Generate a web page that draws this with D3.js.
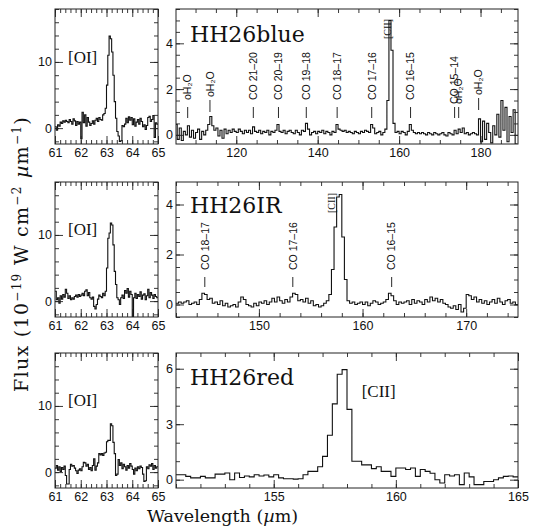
<!DOCTYPE html>
<html><head><meta charset="utf-8">
<script src="https://cdn.jsdelivr.net/npm/d3@7"></script>
<style>body{margin:0;background:#fff}</style>
</head><body>
<svg id="c" width="533" height="527"></svg>
<script>
// ---------------- DATA ----------------
// [OI] 63 micron panels (bins of 0.05 micron starting at 61.00)
const oiStart = 61.0, oiStep = 0.05;
const oiBlue = [
 0.2,-0.3,0.5,0.3,0.9,0.7,1.1,0.9,1.2,1.0,
 0.8,1.3,1.0,0.6,1.4,1.1,0.4,1.0,0.6,0.9,
 -1.6,2.4,0.8,2.0,0.3,1.6,0.9,0.4,0.7,1.1,
 0.6,1.2,1.5,1.0,1.6,1.3,1.2,2.0,2.2,3.0,
 6.5,11.0,13.9,13.5,11.5,8.0,4.0,1.5,-0.5,-1.2,
 -2.0,-1.9,0.4,0.2,0.6,1.5,0.8,1.7,1.2,1.6,
 0.5,1.4,0.3,0.9,1.3,0.6,1.5,1.0,0.2,0.5,
 -0.2,0.4,1.6,1.8,1.0,1.3,1.9,-1.4,0.8,0.6];
const oiIR = [
 1.5,0.2,0.5,-0.3,0.8,0.3,1.0,0.6,1.8,1.2,
 0.4,0.8,0.2,0.5,0.3,0.7,0.9,0.6,1.0,0.7,
 0.9,1.2,0.8,1.5,1.7,0.8,1.3,0.5,0.3,0.6,
 -0.8,-1.2,-0.5,0.3,0.9,0.7,0.5,1.2,0.8,1.5,
 5.0,9.5,10.3,11.8,11.5,8.5,4.5,2.5,0.5,0.2,
 -0.5,0.5,0.9,0.4,1.6,1.2,1.9,0.6,1.5,1.0,
 -2.3,0.5,1.2,0.4,1.0,0.7,1.4,0.3,0.9,1.1,
 0.2,0.8,1.8,0.5,1.3,0.9,0.4,1.0,0.7,0.5];
const oiRed = [
 0.6,1.0,0.3,0.8,0.1,0.7,0.4,0.9,-0.5,-1.8,
 -1.8,0.4,1.2,0.9,1.0,0.6,0.2,-0.2,0.3,0.5,
 0.2,0.8,1.5,1.4,0.9,1.2,0.4,0.7,0.2,1.0,
 2.0,0.3,0.9,1.4,2.8,2.6,2.8,2.5,2.9,3.0,
 4.6,4.8,4.8,7.3,7.0,4.5,2.8,-0.5,-0.3,1.9,
 1.0,1.4,0.5,1.2,0.8,0.3,1.0,0.6,1.3,0.9,
 0.4,-0.3,0.6,0.2,0.8,0.5,0.9,0.7,-0.3,-1.4,
 -1.3,0.8,0.5,1.1,0.9,1.3,0.4,1.0,0.6,0.8];

// HH26blue long-wavelength spectrum (bins of 0.5 micron from 105.0)
const blueStart = 105.0, blueStep = 0.5;
const blueFlux = [
 0.45,-0.2,0.3,-0.25,0.15,0.0,0.4,-0.1,0.2,-0.15,
 0.1,0.25,-0.2,0.15,0.0,0.2,0.45,0.8,0.4,0.2,
 0.3,-0.05,0.2,-0.15,0.25,0.05,0.2,0.1,0.25,0.15,
 0.1,0.25,0.15,0.05,0.2,0.1,0.2,0.05,0.35,0.15,
 0.1,0.2,0.05,0.15,0.1,0.2,0.0,0.15,0.1,0.2,
 0.45,0.15,0.1,0.2,0.05,0.15,0.2,0.1,0.05,0.2,
 0.1,0.0,0.2,0.15,0.5,0.25,0.0,0.1,0.15,0.05,
 0.15,0.1,0.2,0.05,0.15,0.1,0.0,0.15,0.1,0.45,
 0.25,0.2,0.15,0.2,0.1,0.15,0.1,0.05,0.15,0.1,
 0.05,0.15,0.1,0.2,0.15,0.1,0.45,0.3,0.05,0.1,
 0.15,0.0,0.1,0.25,1.5,5.0,3.7,0.5,0.1,0.15,
 0.05,0.15,0.1,0.0,0.15,0.45,0.2,0.1,0.05,0.1,
 0.05,0.1,0.05,0.0,0.1,0.05,0.0,0.1,0.05,0.0,
 0.05,0.1,0.0,-0.05,0.1,0.05,0.0,0.2,0.05,0.25,
 0.1,0.3,0.05,0.1,0.0,0.05,0.1,0.05,0.0,0.7,
 -0.3,0.6,-0.2,0.5,0.1,-0.35,0.4,0.0,0.9,-0.1,
 1.5,0.2,1.2,-0.3,0.8,0.1,1.1,-0.4];

// HH26IR spectrum (bins of 0.25 micron from 142.0)
const irStart = 142.0, irStep = 0.25;
const irFlux = [
 0.05,0.1,0.05,0.1, 0.15,0.0,0.05,0.1, 0.0,0.2,0.45,0.4, 0.2,0.25,0.05,0.1,
 0.0,0.15,-0.05,0.05, -0.1,-0.05,0.0,-0.1, 0.1,0.3,0.2,0.0, -0.05,-0.1,0.05,-0.05,
 0.1,0.05,0.15,0.0, 0.1,0.25,0.1,0.3, 0.15,0.05,0.2,0.1, 0.3,0.45,0.4,0.15,
 0.2,0.1,0.25,0.05, 0.15,-0.05,0.0,-0.1, -0.05,0.05,0.15,0.4, 1.4,3.1,4.3,4.4,
 2.7,1.0,0.15,0.05, 0.1,0.0,0.05,0.1, 0.0,0.1,-0.05,0.05, 0.15,0.1,0.0,0.05,
 0.1,0.2,0.45,0.35, 0.15,0.0,0.1,0.05, 0.1,0.15,0.0,0.2, 0.05,0.15,0.1,0.0,
 0.2,0.1,0.3,0.15, 0.25,0.1,0.2,0.05, 0.0,-0.1,-0.15,-0.05, -0.2,0.0,-0.3,-0.15,
 0.4,0.35,0.2,0.3, 0.1,0.2,0.05,0.15, 0.0,0.1,0.2,0.05, 0.25,0.1,0.0,0.15,
 0.2,0.05,0.1,0.0];

// HH26red spectrum (bins of 0.2 micron from 151.0)
const redStart = 151.0, redStep = 0.2;
const redFlux = [
 0.27,0.27,0.18,0.1,0.1,0.18,0.1,0.1,0.3,0.3,
 0.36,0.0,0.36,0.12,0.2,0.15,0.27,0.2,0.25,0.15,
 0.27,0.1,0.05,0.05,0.03,0.05,0.27,0.45,0.45,0.7,
 1.26,2.4,4.1,5.7,5.95,3.8,1.0,1.0,0.8,0.8,
 0.6,0.7,0.45,0.45,0.18,0.63,0.63,0.55,0.63,0.18,
 0.55,0.45,0.35,0.0,-0.18,0.27,0.2,0.27,-0.27,0.36,
 0.15,-0.27,-0.27,-0.1,-0.1,0.0,0.1,0.18,0.2,0.15];

// line identifications
const blueLineLam = [108.07,113.54,124.19,130.37,137.20,144.78,153.27,162.81,173.63,174.63,179.53];
const blueLineLab = ["oH₂O","oH₂O","CO 21–20","CO 20–19","CO 19–18","CO 18–17","CO 17–16","CO 16–15","CO 15–14","oH₂O","oH₂O"];
const irLineLam = [144.78,153.27,162.81];
const irLineLab = ["CO 18–17","CO 17–16","CO 16–15"];
const ciiLam = 157.74;

// axes
const oiXTicks = [61,62,63,64,65], oiYTicks = [0,10];
const blueXTicks = [120,140,160,180], blueYTicks = [0,2,4];
const irXTicks = [150,160,170], irYTicks = [0,2,4];
const redXTicks = [155,160,165], redYTicks = [0,3,6];
const titles = ["HH26blue","HH26IR","HH26red"];

// ---------------- DRAWING ----------------
const svg = d3.select("#c");
svg.append("rect").attr("width",533).attr("height",527).attr("fill","#fff");

const LX = 55, LW = 103, RX = 176, RW = 342, PH = 135;
const rowTop = [9, 182, 353];
const SANS = "'Liberation Sans', Arial, Helvetica, sans-serif";
const SERIF = "'DejaVu Serif', serif";
const TSERIF = "'Liberation Serif', 'Times New Roman', serif";

function stepVals(d, step) {
  const a = [];
  const s = Math.ceil(d[0]/step - 1e-9), e = Math.floor(d[1]/step + 1e-9);
  for (let k = s; k <= e; k++) a.push(+(k*step).toFixed(6));
  return a;
}
let clipId = 0;
function panel(px, py, pw, xd, yd, xMajor, xStep, yMajor, yStep, start, step, flux) {
  const g = svg.append("g").attr("transform", `translate(${px},${py})`);
  const x = d3.scaleLinear().domain(xd).range([0, pw]);
  const y = d3.scaleLinear().domain(yd).range([PH, 0]);
  const id = "clip" + (clipId++);
  g.append("clipPath").attr("id", id).append("rect").attr("width", pw).attr("height", PH);

  const pts = flux.map((v, i) => [start + i*step, v]);
  pts.push([start + flux.length*step, flux[flux.length-1]]);
  const line = d3.line().x(d => x(d[0])).y(d => y(d[1])).curve(d3.curveStepAfter);
  g.append("path").attr("clip-path", `url(#${id})`).attr("d", line(pts))
    .attr("fill","none").attr("stroke","#111").attr("stroke-width",1.1);

  const xMin = stepVals(xd, xStep), yMin = stepVals(yd, yStep);
  const clean = s => s.call(a => a.select(".domain").remove())
     .selectAll("line").attr("stroke","#222").attr("stroke-width",0.9);
  const ax = (axis, tr) => g.append("g").attr("transform", tr || null).call(axis);
  // minor ticks on all four sides
  clean(ax(d3.axisBottom(x).tickValues(xMin).tickSize(-4).tickFormat(""), `translate(0,${PH})`));
  clean(ax(d3.axisTop(x).tickValues(xMin).tickSize(-4).tickFormat("")));
  clean(ax(d3.axisLeft(y).tickValues(yMin).tickSize(-4).tickFormat("")));
  clean(ax(d3.axisRight(y).tickValues(yMin).tickSize(-4).tickFormat(""), `translate(${pw},0)`));
  // major ticks
  const b = ax(d3.axisBottom(x).tickValues(xMajor).tickSizeInner(-8).tickSizeOuter(0).tickPadding(4).tickFormat(d3.format("d")), `translate(0,${PH})`);
  clean(b);
  clean(ax(d3.axisTop(x).tickValues(xMajor).tickSizeInner(-8).tickSizeOuter(0).tickFormat("")));
  const l = ax(d3.axisLeft(y).tickValues(yMajor).tickSizeInner(-8).tickSizeOuter(0).tickPadding(3).tickFormat(d3.format("d")));
  clean(l);
  clean(ax(d3.axisRight(y).tickValues(yMajor).tickSizeInner(-8).tickSizeOuter(0).tickFormat(""), `translate(${pw},0)`));
  [b, l].forEach(a => a.attr("font-family", SANS).attr("font-size", 12.5)
     .selectAll("text").attr("fill","#111"));
  g.append("rect").attr("width", pw).attr("height", PH).attr("fill","none")
    .attr("stroke","#222").attr("stroke-width",1);
  return {g, x, y};
}

const oiSets = [oiBlue, oiIR, oiRed];
const oiLabelY = [54, 53, 53];
rowTop.forEach((t, r) => {
  const p = panel(LX, t, LW, [61,65], [-2.4,18], oiXTicks, 0.2, oiYTicks, 2, oiStart, oiStep, oiSets[r]);
  p.g.append("text").attr("x", 13).attr("y", oiLabelY[r]).text("[OI]")
    .attr("font-family", TSERIF).attr("font-size", 17).attr("fill","#111");
});

const pB = panel(RX, rowTop[0], RW, [105.2,189.2], [-0.4,5.5], blueXTicks, 5, blueYTicks, 0.5, blueStart, blueStep, blueFlux);
const pI = panel(RX, rowTop[1], RW, [142,175], [-0.5,4.9], irXTicks, 2, irYTicks, 0.5, irStart, irStep, irFlux);
const pR = panel(RX, rowTop[2], RW, [151,165], [-0.45,6.85], redXTicks, 1, redYTicks, 1, redStart, redStep, redFlux);

[pB, pI, pR].forEach((p, r) => {
  p.g.append("text").attr("x", 14).attr("y", [33, 31, 32][r]).text(titles[r])
    .attr("font-family", SERIF).attr("font-size", 22).attr("fill","#111");
});

// line identification labels
function idLabels(p, lams, labs, style) {
  lams.forEach((lam, i) => {
    const s = style(i);
    const xx = p.x(lam);
    p.g.append("line").attr("x1", xx).attr("x2", xx).attr("y1", s.l1).attr("y2", s.l2)
      .attr("stroke","#111").attr("stroke-width",0.9);
    p.g.append("text").attr("transform", `translate(${xx+3.8},${s.tb}) rotate(-90)`)
      .text(labs[i]).attr("font-family", SANS).attr("font-size", 10.5).attr("fill","#111");
  });
}
idLabels(pB, blueLineLam, blueLineLab, i => {
  if (i === 1) return {tb: 88, l1: 91, l2: 103};
  if (i === 10) return {tb: 86, l1: 89, l2: 101};
  if (i === 8 || i === 9) return {tb: 95, l1: 98, l2: 109};
  return {tb: 91, l1: 98, l2: 109};
});
idLabels(pI, irLineLam, irLineLab, () => ({tb: 88, l1: 95, l2: 105}));

function boxedCII(p, dx, yb) {
  const xx = p.x(ciiLam) + dx;
  p.g.append("text").attr("transform", `translate(${xx},${yb}) rotate(-90)`)
    .text("[CII]").attr("font-family", TSERIF).attr("font-size", 10).attr("fill","#111");
}
boxedCII(pB, 1.5, 30);
boxedCII(pI, -4.5, 31);

pR.g.append("text").attr("x", pR.x(158.6)).attr("y", 44).text("[CII]")
  .attr("font-family", TSERIF).attr("font-size", 17).attr("fill","#111");

// axis titles
const yl = svg.append("text").attr("transform", "translate(28,254) rotate(-90)")
  .attr("text-anchor","middle").attr("font-family", SERIF).attr("font-size", 19)
  .attr("letter-spacing", 1.3).attr("fill","#111");
yl.append("tspan").text("Flux (10");
yl.append("tspan").attr("dy", -7).attr("font-size", 12).text("−19");
yl.append("tspan").attr("dy", 7).text(" W cm");
yl.append("tspan").attr("dy", -7).attr("font-size", 12).text("−2");
yl.append("tspan").attr("dy", 7).text(" ");
yl.append("tspan").attr("font-style","italic").text("µ");
yl.append("tspan").text("m");
yl.append("tspan").attr("dy", -7).attr("font-size", 12).text("−1");
yl.append("tspan").attr("dy", 7).text(")");

const xl = svg.append("text").attr("x", 147).attr("y", 522)
  .attr("font-family", SERIF).attr("font-size", 17.5).attr("fill","#111");
xl.append("tspan").text("Wavelength (");
xl.append("tspan").attr("font-style","italic").text("µ");
xl.append("tspan").text("m)");
</script>
</body></html>
